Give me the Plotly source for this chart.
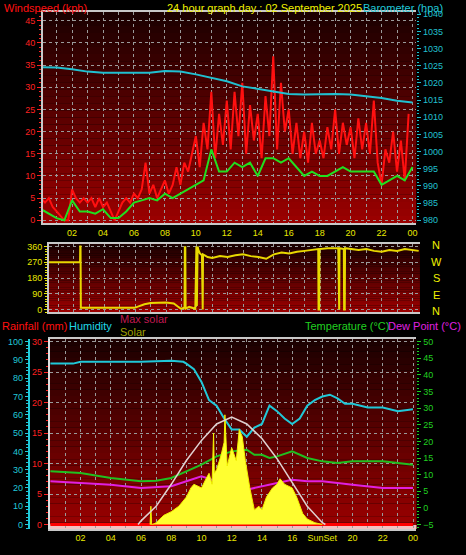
import plotly.graph_objects as go

# ---------------- data ----------------
gust_t = [i * 0.25 for i in range(96)]
gust = [5,4,5,3, 2,1,0,0, 7,5,4,5, 4,5,3,5, 3,4,2,0, 2,4,5,4,
        6,5,7,13, 6,8,5,7, 9,6,8,12, 8,13,11,15, 19,12,22,16, 29,14,24,17,
        27,16,29,19, 31,15,26,18, 24,14,28,19, 37,16,31,20, 25,15,22,14,
        20,13,22,15, 18,14,21,16, 25,15,22,17, 21,14,23,16, 22,15,27,13,
        8,16,13,20, 11,18,9,24]
avg_t = [i * 0.5 for i in range(49)]
avg = [2.5,1.5,0.5,0,4.5,2,2,1.5,2.5,0.5,0.5,2,4,4.5,5,4.5,6,5,6,7,8,9,16,11,11,13,
       12,13,10,14,14,13,14,12,10,11,10,10,11,12,11,11,11,11,8,9,10,9,12]
baro_t = list(range(25))
baro = [1024.6,1024.5,1024,1023.3,1023,1023,1023,1023,1023.5,1023.3,1022.5,1021.5,1020.5,
        1019,1018.2,1017.6,1016.8,1016.6,1016.8,1016.8,1016.6,1016.2,1015.6,1014.8,1014.3]

dir_t = [0.4,2.42,2.43,2.45,2.47,5.95,6.6,7,8,8.5,8.96,9.2,9.22,9.25,9.27,9.5,9.9,9.95,9.97,
         10.0,10.05,10.1,10.2,10.33,10.35,10.38,10.4,10.7,11,11.5,12,12.5,13,13.5,14,14.5,15,
         15.5,16,16.5,17,17.5,17.88,17.9,17.94,17.96,18.5,19.18,19.2,19.24,19.26,19.54,19.56,
         19.6,19.62,20,20.5,21,21.5,22,22.5,23,23.5,24.4]
dirs = [270,270,360,360,10,10,30,38,40,35,5,10,355,355,5,15,5,360,360,20,360,340,320,310,0,0,
        315,300,295,305,300,310,315,305,300,290,315,325,320,330,335,340,345,0,0,345,350,350,
        0,0,350,345,0,0,350,345,340,345,335,330,340,335,345,335]

hum_t = [0,1.5,2,4,6,8,8.8,9,9.5,10,10.5,11,11.5,12,12.5,13,13.5,14,14.5,15,15.5,16,16.5,
         17,17.5,18,18.5,19,19.5,20,21,22,23,24]
hum = [88,88,89,89,89,89.5,89,88,85,78,68,65,58,52,52,48,53,55,65,62,58,55,58,65,68,70,
       71,69,66,66,64,64,62,63]
temp_t = [0,2,4,6,7,8,9,10,11,12,13,13.5,14,14.5,15,16,17,18,19,20,21,22,23,24]
temp = [11,10.5,9,8,8.2,9,11,13,15.5,17,17.5,16,16,15,15.5,17,15,14,13.5,14,14,14,13.5,13]
dew_t = [0,2,4,6,8,9,10,11,12,13,14,15,16,17,18,20,22,24]
dew = [8,7.5,7,6,6.5,8,9.5,8,6.5,5.5,6.5,7.5,8.5,8,8,7,6,6]
rain_t = [0, 24]
rain = [0, 0]
solar_t = [6.6,6.65,6.7,6.75,7,7.5,8,8.5,9,9.3,9.5,10,10.3,10.5,10.7,10.8,10.85,11,11.3,11.5,
           11.55,11.7,12,12.3,12.5,12.7,12.9,13.2,13.5,13.8,14,14.3,14.7,15,15.2,15.5,16,16.3,
           16.7,17,17.5,18]
solar = [0,100,0,0,10,50,70,100,150,200,220,200,250,280,220,500,280,300,380,450,600,320,420,
         350,520,480,350,200,80,100,80,150,200,220,250,220,200,150,60,30,10,0]
maxsol_t = [5.8,6,7,8,9,10,11,12,13,14,15,16,17,18,18.2]
maxsol = [0,20,100,220,350,460,550,587,550,470,360,230,100,10,0]

hours_even = [2,4,6,8,10,12,14,16,18,20,22,24]
hour_labels = ["02","04","06","08","10","12","14","16","18","20","22","00"]
hour_labels_bot = ["02","04","06","08","10","12","14","16","SunSet","20","22","00"]

# ---------------- figure ----------------
F = "Liberation Sans"
fig = go.Figure()
fig.add_trace(go.Scatter(x=gust_t, y=gust, mode="lines", line=dict(color="#ff1010", width=2), xaxis="x", yaxis="y"))
fig.add_trace(go.Scatter(x=avg_t, y=avg, mode="lines", line=dict(color="#20e020", width=2), xaxis="x", yaxis="y"))
fig.add_trace(go.Scatter(x=baro_t, y=baro, mode="lines", line=dict(color="#20c0d0", width=2), xaxis="x", yaxis="y2"))
fig.add_trace(go.Scatter(x=dir_t, y=dirs, mode="lines", line=dict(color="#e8d800", width=2), xaxis="x2", yaxis="y3"))
fig.add_trace(go.Scatter(x=solar_t, y=solar, mode="lines", fill="tozeroy", fillcolor="#ffff30",
                         line=dict(color="#f0f000", width=1), xaxis="x3", yaxis="y7"))
fig.add_trace(go.Scatter(x=maxsol_t, y=maxsol, mode="lines", line=dict(color="#e0d0d0", width=1.5), xaxis="x3", yaxis="y7"))
fig.add_trace(go.Scatter(x=rain_t, y=rain, mode="lines", line=dict(color="#ff0000", width=3), xaxis="x3", yaxis="y4"))
fig.add_trace(go.Scatter(x=hum_t, y=hum, mode="lines", line=dict(color="#20c8d8", width=2), xaxis="x3", yaxis="y5"))
fig.add_trace(go.Scatter(x=temp_t, y=temp, mode="lines", line=dict(color="#20c020", width=2), xaxis="x3", yaxis="y6"))
fig.add_trace(go.Scatter(x=dew_t, y=dew, mode="lines", line=dict(color="#e020e0", width=2), xaxis="x3", yaxis="y6"))

grid = dict(showgrid=True, gridcolor="#9a9a9a", griddash="dot", gridwidth=1, zeroline=False)
xcommon = dict(grid, tickvals=hours_even, ticks="", tickfont=dict(color="#e8e800", size=9, family=F),
               showline=True, linecolor="#c8c8c8", mirror=True, linewidth=1.5)
xminor = dict(dtick=1, showgrid=True, gridcolor="#9a9a9a", griddash="dot", ticks="")

fig.update_layout(
    width=466, height=555, margin=dict(l=0, r=0, t=0, b=0),
    paper_bgcolor="black", plot_bgcolor="black", showlegend=False,
    xaxis=dict(xcommon, domain=[0.0923, 0.897], range=[0.11, 24.24], anchor="y", ticktext=hour_labels, minor=xminor),
    xaxis2=dict(xcommon, domain=[0.1052, 0.905], range=[0.39, 24.48], anchor="y3", showticklabels=False, minor=xminor),
    xaxis3=dict(xcommon, domain=[0.1073, 0.8976], range=[-0.04, 24.23], anchor="y4", ticktext=hour_labels_bot, minor=xminor),
    yaxis=dict(grid, domain=[0.5982, 0.982], range=[-0.6, 47], tickvals=list(range(0, 46, 5)),
               tickfont=dict(color="#ff2020", size=9, family=F), ticks="outside", ticklen=4, tickcolor="#ff2020",
               minor=dict(dtick=1, ticks="outside", ticklen=2, tickcolor="#ff2020", showgrid=False),
               showline=True, linecolor="#c8c8c8", linewidth=1.5, anchor="x"),
    yaxis2=dict(overlaying="y", side="right", range=[979.2, 1040.7], tickvals=list(range(980, 1041, 5)),
                tickfont=dict(color="#20c0d0", size=9, family=F), showgrid=False, zeroline=False,
                ticks="outside", ticklen=4, tickcolor="#20c0d0",
                minor=dict(dtick=1, ticks="outside", ticklen=2, tickcolor="#20c0d0"), anchor="x"),
    yaxis3=dict(grid, domain=[0.4360, 0.5598], range=[-15, 373.6], tickvals=[0, 90, 180, 270, 360],
                tickfont=dict(color="#e8e800", size=9, family=F), ticks="outside", ticklen=3, tickcolor="#e8e800",
                minor=dict(dtick=15, ticks="outside", ticklen=2, tickcolor="#e8e800", showgrid=False),
                showline=True, linecolor="#c8c8c8", linewidth=1.5, anchor="x2"),
    yaxis4=dict(grid, domain=[0.0420, 0.3874], range=[-0.72, 30.44], tickvals=list(range(0, 31, 5)),
                tickfont=dict(color="#ff2020", size=9, family=F), ticks="outside", ticklen=4, tickcolor="#ff2020",
                minor=dict(dtick=1, ticks="outside", ticklen=2, tickcolor="#ff2020", showgrid=False),
                showline=True, linecolor="#e0e0e0", linewidth=2, anchor="x3"),
    yaxis5=dict(overlaying="y4", anchor="free", position=0.062, side="left", range=[-2.4, 101.5],
                tickvals=list(range(0, 101, 10)), tickfont=dict(color="#20c8d8", size=9, family=F),
                showgrid=False, zeroline=False, showline=True, linecolor="#20c8d8", linewidth=2,
                ticks="outside", ticklen=3, tickcolor="#20c8d8",
                minor=dict(dtick=2, ticks="outside", ticklen=2, tickcolor="#20c8d8")),
    yaxis6=dict(overlaying="y4", side="right", anchor="x3", range=[-6.3, 50.8], tickvals=list(range(-5, 51, 5)),
                tickfont=dict(color="#20d020", size=9, family=F), showgrid=False, zeroline=False,
                ticks="outside", ticklen=4, tickcolor="#20d020",
                minor=dict(dtick=1, ticks="outside", ticklen=2, tickcolor="#20d020")),
    yaxis7=dict(overlaying="y4", range=[-24, 1015], visible=False, anchor="x3"),
)

def gradient(xr, yr, n=30):
    for i in range(n):
        f = i / n
        r = int(0x9a * (1 - f) + 0x18 * f)
        fig.add_shape(type="rect", xref=xr, yref=yr, x0=0, x1=1, y0=f, y1=(i + 1) / n,
                      fillcolor=f"rgb({r},0,0)", line_width=0, layer="below")
gradient("x domain", "y domain")
gradient("x2 domain", "y3 domain")
gradient("x3 domain", "y4 domain")
fig.add_shape(type="rect", xref="x3 domain", yref="y4 domain", x0=0, x1=1, y0=0, y1=0.02,
              fillcolor="#f0c0c0", line_width=0, layer="below")

def txt(x, y, s, color, size=11, anchor="left"):
    fig.add_annotation(x=x / 466, y=1 - y / 555, xref="paper", yref="paper", text=s, showarrow=False,
                       xanchor=anchor, yanchor="middle", font=dict(color=color, size=size, family=F))

txt(2, 6, "Windspeed (kph)", "#ff1010")
txt(266, 6, "24 hour graph day : 02 September 2025", "#f0f000", anchor="center")
txt(447, 6, "Barometer (hpa)", "#20c8d8", anchor="right")
for s, yy in zip(["N", "W", "S", "E", "N"], [245, 262, 279, 296, 312]):
    txt(438, yy, s, "#f0f000", size=11, anchor="center")
txt(0, 327, "Rainfall (mm)", "#ff1010")
txt(67, 327, "Humidity", "#20d8e8")
txt(119, 320, "Max solar", "#c01850")
txt(119, 333, "Solar", "#a0a000")
txt(393, 327, "Temperature (°C)", "#20d020", anchor="right")
txt(465, 327, "Dew Point (°C)", "#e020e0", anchor="right")

fig.write_html("out.html", config={"displayModeBar": False})
with open("out.html", encoding="utf-8") as fh:
    html = fh.read()
html = html.replace("<body>", '<body style="margin:0;background:black">', 1)
with open("out.html", "w", encoding="utf-8") as fh:
    fh.write(html)
